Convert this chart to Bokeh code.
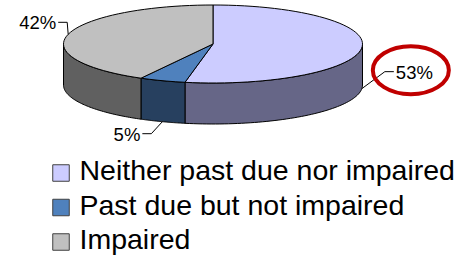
import math
from bokeh.plotting import figure
from bokeh.models import Range1d
from bokeh.core.properties import value
from bokeh.embed import file_html
from bokeh.resources import INLINE

# ---- data ----
categories = ["Neither past due nor impaired", "Past due but not impaired", "Impaired"]
shares = [53, 5, 42]
pct_labels = ["53%", "5%", "42%"]

# ---- styles ----
top_colors = ["#CCCCFF", "#4F81BD", "#C0C0C0"]
side_colors = ["#666687", "#27405F", "#606060"]
FONT = "Liberation Sans"

# pie geometry (reference pixel space, y down)
cx, cy, ra, rb, depth = 212.5, 43.5, 149.5, 39.0, 41.0
# label leader offsets: (elbow dx, elbow dy, end dx)
leader = [(23, -17, 9), (-11, 12, -9), (-1, -12, -9)]

W, H = 463, 256
p = figure(width=W, height=H, output_backend="svg", toolbar_location=None,
           x_range=Range1d(0, W), y_range=Range1d(H, 0),
           min_border=0, outline_line_color=None)
p.axis.visible = False
p.grid.visible = False
p.background_fill_color = "white"


def pt(theta, dy=0.0):
    return cx + ra * math.sin(theta), cy - rb * math.cos(theta) + dy


total = float(sum(shares))
bounds = []
acc = 0.0
for s in shares:
    start = acc / total * 2 * math.pi
    acc += s
    end = acc / total * 2 * math.pi
    bounds.append((start, end))

# outer walls (front half only)
wall_xs, wall_ys, wall_cols = [], [], []
for (st, en), col in zip(bounds, side_colors):
    lo, hi = max(st, math.pi / 2), min(en, 1.5 * math.pi)
    if lo >= hi:
        continue
    n = 60
    ts = [lo + (hi - lo) * i / n for i in range(n + 1)]
    top = [pt(t) for t in ts]
    bot = [pt(t, depth) for t in reversed(ts)]
    pts = top + bot
    wall_xs.append([q[0] for q in pts])
    wall_ys.append([q[1] for q in pts])
    wall_cols.append(col)
p.patches(wall_xs, wall_ys, fill_color=wall_cols, line_color="black", line_width=1)

# tops
top_xs, top_ys = [], []
for (st, en) in bounds:
    n = max(4, int(120 * (en - st) / (2 * math.pi)))
    ts = [st + (en - st) * i / n for i in range(n + 1)]
    pts = [(cx, cy)] + [pt(t) for t in ts]
    top_xs.append([q[0] for q in pts])
    top_ys.append([q[1] for q in pts])
p.patches(top_xs, top_ys, fill_color=top_colors, line_color="black", line_width=1)

# leader lines + labels
for (st, en), lab, (ex, ey, tx) in zip(bounds, pct_labels, leader):
    mid = (st + en) / 2
    ax, ay = pt(mid, depth if math.cos(mid) < 0 else 0.0)
    elx, ely = ax + ex, ay + ey
    endx = elx + tx
    p.line([ax, elx, endx], [ay, ely, ely], line_color="black", line_width=1)
    align = "left" if tx > 0 else "right"
    p.text([endx + (2 if tx > 0 else -2)], [ely + 0.5], text=[lab], text_align=align,
           text_baseline="middle", text_font=value(FONT),
           text_font_size=value("18.5px"), text_color="black")
    if lab == "53%":
        p.ellipse([endx + 17], [ely - 1.5], width=76, height=48,
                  width_units="screen", height_units="screen",
                  fill_color=None, line_color="#C00000", line_width=4)

# legend
leg_x, leg_y0, leg_dy = 60.5, 172.5, 34.5
ys = [leg_y0 + i * leg_dy for i in range(len(categories))]
p.rect([leg_x] * 3, ys, width=16.5, height=16.5, width_units="screen", height_units="screen",
       fill_color=top_colors, line_color="#404040", line_width=1)
p.text([79] * 3, [y - 3 for y in ys], text=categories, text_align="left",
       text_baseline="middle", text_font=value(FONT),
       text_font_size=value("28.5px"), text_color="black")

open("out.html", "w").write(file_html(p, INLINE))
